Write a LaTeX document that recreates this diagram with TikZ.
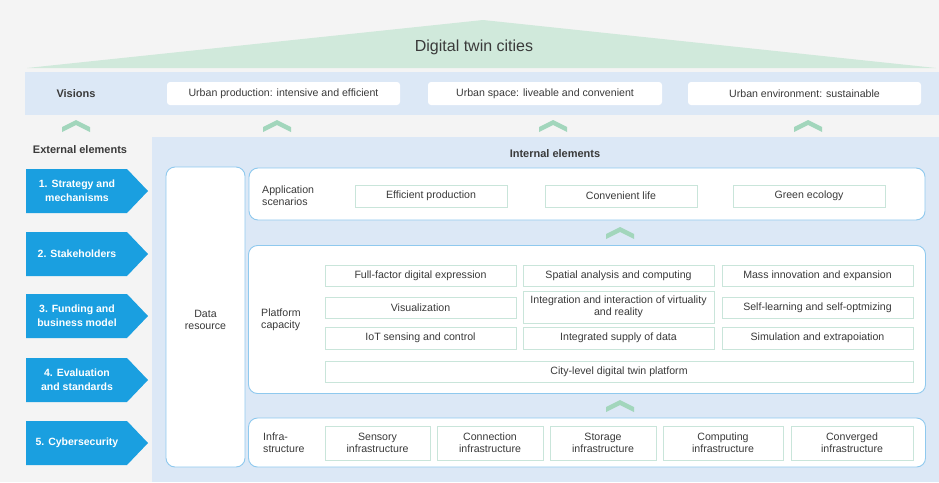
\documentclass[tikz,border=0pt]{standalone}
\usepackage{fontspec}
\setmainfont{Liberation Sans}
\definecolor{bggray}{HTML}{F4F4F4}
\definecolor{trigreen}{HTML}{D0E9DB}
\definecolor{bandblue}{HTML}{DCE8F6}
\definecolor{chevgreen}{HTML}{A2D6BC}
\definecolor{extblue}{HTML}{1A9FE0}
\definecolor{lineblue}{HTML}{8FC9EE}
\definecolor{cellline}{HTML}{C9E5DA}
\definecolor{textgray}{HTML}{3A3A3A}
\begin{document}
\begin{tikzpicture}[x=1pt,y=-1pt,
    every node/.style={text=textgray,font=\fontsize{10.6}{12}\selectfont,inner sep=0pt},
    panel/.style={draw=lineblue,line width=0.9pt,fill=white,rounded corners=9pt},
    cell/.style={draw=cellline,line width=0.7pt,fill=white,align=center},
    visbox/.style={fill=white,rounded corners=3pt},
    boldlabel/.style={font=\fontsize{11}{13}\selectfont\bfseries},
    exttext/.style={text=white,align=center,font=\fontsize{10.5}{14}\selectfont\bfseries},
    sidelabel/.style={anchor=west,align=left},
    chev/.style={fill=chevgreen}]
                        % background
                        \fill[bggray] (0,0) rectangle (939,482);
                        \fill[trigreen] (27,68) -- (483,20) -- (936,68) -- cycle;
                        \node[font=\fontsize{16}{18}\selectfont] (title) at (474,47) {Digital twin cities};

                        % visions
                        \fill[bandblue] (25,72) rectangle (939,115);
                        \node[boldlabel] (visions) at (76,93.5) {Visions};
                        \node[visbox,minimum width=233pt,minimum height=23pt] (vis1) at (283.5,93.5) {Urban production: intensive and efficient};
                        \node[visbox,minimum width=234pt,minimum height=23pt] (vis2) at (545,93.5) {Urban space: liveable and convenient};
                        \node[visbox,minimum width=233pt,minimum height=23pt] (vis3) at (804.5,93.5) {Urban environment: sustainable};

                        % external elements
                        \node[boldlabel] (extlabel) at (80,150) {External elements};
                        \foreach \y/\txt [count=\i] in {191/{1. Strategy and\\mechanisms}, 254/{2. Stakeholders}, 316/{3. Funding and\\business model}, 380/{4. Evaluation\\and standards}, 443/{5. Cybersecurity}} {
                            \fill[extblue] (26,\y-22) -- (127,\y-22) -- (148,\y) -- (127,\y+22) -- (26,\y+22) -- cycle;
                            \node[exttext] (ext\i) at (77,\y) {\txt};
                        }

                        % internal elements
                        \fill[bandblue] (152,137) rectangle (939,482);
                        \foreach \cx/\cy in {76/126, 277/126, 553/126, 808/126, 620/233, 620/406}
                            \fill[chev] (\cx-14,\cy+1) -- (\cx,\cy-6) -- (\cx+14,\cy+1) -- (\cx+14,\cy+6) -- (\cx,\cy-1) -- (\cx-14,\cy+6) -- cycle;
                        \node[boldlabel] (intlabel) at (555,154) {Internal elements};
                        \node[panel,minimum width=79pt,minimum height=300pt] (data) at (205.5,317) {};
                        \node[align=center] (datalabel) at (205.5,320) {Data\\resource};

                        \node[panel,minimum width=676pt,minimum height=52pt] (app) at (587,194) {};
                        \node[sidelabel] (applabel) at (262,196) {Application\\scenarios};
                        \node[cell,minimum width=152pt,minimum height=22pt] (app1) at (431,196) {Efficient production};
                        \node[cell,minimum width=152pt,minimum height=22pt] (app2) at (621,196) {Convenient life};
                        \node[cell,minimum width=152pt,minimum height=22pt] (app3) at (809,196) {Green ecology};

                        \node[panel,minimum width=677pt,minimum height=148pt] (plat) at (587,319.5) {};
                        \node[sidelabel] (platlabel) at (261,320) {Platform\\capacity};
                        \node[cell,minimum width=191pt,minimum height=21pt] (plat11) at (420.5,275.5) {Full-factor digital expression};
                        \node[cell,minimum width=191pt,minimum height=21pt] (plat12) at (618.5,275.5) {Spatial analysis and computing};
                        \node[cell,minimum width=191pt,minimum height=21pt] (plat13) at (817.5,275.5) {Mass innovation and expansion};
                        \node[cell,minimum width=191pt,minimum height=21pt] (plat21) at (420.5,307.5) {Visualization};
                        \node[cell,minimum width=191pt,minimum height=32pt] (plat22) at (618.5,307) {Integration and interaction of virtuality\\and reality};
                        \node[cell,minimum width=191pt,minimum height=21pt] (plat23) at (817.5,307.5) {Self-learning and self-optmizing};
                        \node[cell,minimum width=191pt,minimum height=22pt] (plat31) at (420.5,338) {IoT sensing and control};
                        \node[cell,minimum width=191pt,minimum height=22pt] (plat32) at (618.5,338) {Integrated supply of data};
                        \node[cell,minimum width=191pt,minimum height=22pt] (plat33) at (817.5,338) {Simulation and extrapoiation};
                        \node[cell,minimum width=588pt,minimum height=21pt] (city) at (619,371.5) {City-level digital twin platform};

                        \node[panel,minimum width=677pt,minimum height=49pt] (infra) at (587,442.5) {};
                        \node[sidelabel] (infralabel) at (263,443) {Infra-\\structure};
                        \node[cell,minimum width=105pt,minimum height=34pt] (infra1) at (377.5,443) {Sensory\\infrastructure};
                        \node[cell,minimum width=106pt,minimum height=34pt] (infra2) at (490,443) {Connection\\infrastructure};
                        \node[cell,minimum width=106pt,minimum height=34pt] (infra3) at (603,443) {Storage\\infrastructure};
                        \node[cell,minimum width=120pt,minimum height=34pt] (infra4) at (723,443) {Computing\\infrastructure};
                        \node[cell,minimum width=122pt,minimum height=34pt] (infra5) at (852,443) {Converged\\infrastructure};
                    \end{tikzpicture}
\end{document}
